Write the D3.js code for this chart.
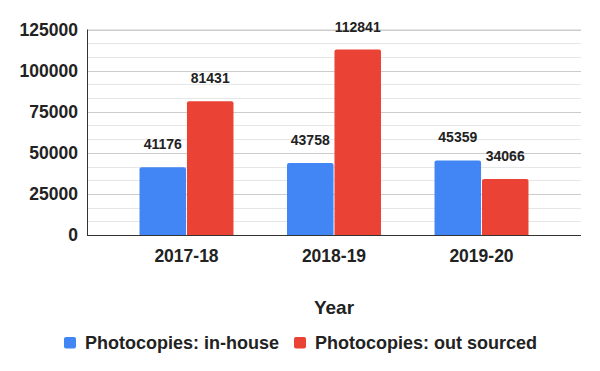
<!DOCTYPE html>
<html>
<head>
<meta charset="utf-8">
<script src="https://cdn.jsdelivr.net/npm/d3@7"></script>
<style>
  body { margin: 0; background: #fff; }
  svg { font-family: "Liberation Sans", Arial, sans-serif; }
</style>
</head>
<body>
<div id="chart"></div>
<script>
const years = ["2017-18", "2018-19", "2019-20"];
const series = ["Photocopies: in-house", "Photocopies: out sourced"];
const inHouse = [41176, 43758, 45359];
const outSourced = [81431, 112841, 34066];
const yTicks = [0, 25000, 50000, 75000, 100000, 125000];
const colors = ["#4285F4", "#EA4335"];

const width = 600, height = 371;
const plotLeft = 87, plotRight = 581, plotTop = 29.5, plotBottom = 235;

const svg = d3.select("#chart").append("svg")
  .attr("width", width)
  .attr("height", height);

const x0 = d3.scaleBand()
  .domain(years)
  .range([plotLeft, plotRight])
  .paddingInner(0.363)
  .paddingOuter(0.356);

const x1 = d3.scaleBand()
  .domain(series)
  .range([0, x0.bandwidth()])
  .paddingInner(0.02);

const y = d3.scaleLinear()
  .domain([0, 125000])
  .range([plotBottom, plotTop]);

// minor gridlines
const minor = d3.range(0, 125001, 25000 / 3);
svg.append("g").selectAll("line")
  .data(minor)
  .join("line")
  .attr("x1", plotLeft).attr("x2", plotRight)
  .attr("y1", d => Math.round(y(d)) + 0.5)
  .attr("y2", d => Math.round(y(d)) + 0.5)
  .attr("stroke", "#e6e6e6");

// major gridlines
svg.append("g").selectAll("line")
  .data(yTicks)
  .join("line")
  .attr("x1", plotLeft).attr("x2", plotRight)
  .attr("y1", d => Math.round(y(d)) + 0.5)
  .attr("y2", d => Math.round(y(d)) + 0.5)
  .attr("stroke", "#cccccc");

// y tick labels
svg.append("g").selectAll("text")
  .data(yTicks)
  .join("text")
  .attr("x", 78)
  .attr("y", d => y(d))
  .attr("dy", "0.36em")
  .attr("text-anchor", "end")
  .attr("font-size", 17.5)
  .attr("font-weight", "bold")
  .attr("fill", "#222")
  .text(d => d);

const rows = years.map((yr, i) => ({ year: yr, values: [inHouse[i], outSourced[i]] }));

const groups = svg.append("g").selectAll("g")
  .data(rows)
  .join("g")
  .attr("transform", d => `translate(${x0(d.year)},0)`);

groups.selectAll("path")
  .data(d => d.values.map((v, j) => ({ key: series[j], value: v, j })))
  .join("path")
  .attr("fill", d => colors[d.j])
  .attr("d", d => {
    const x = x1(d.key), w = x1.bandwidth(), yt = y(d.value), r = 2;
    return `M${x},${plotBottom}V${yt + r}Q${x},${yt} ${x + r},${yt}H${x + w - r}Q${x + w},${yt} ${x + w},${yt + r}V${plotBottom}Z`;
  });

groups.selectAll("text")
  .data(d => d.values.map((v, j) => ({ key: series[j], value: v, j })))
  .join("text")
  .attr("x", d => x1(d.key) + x1.bandwidth() / 2)
  .attr("y", d => y(d.value) - 23)
  .attr("dy", "0.36em")
  .attr("text-anchor", "middle")
  .attr("font-size", 14)
  .attr("font-weight", "bold")
  .attr("fill", "#222")
  .text(d => d.value);

// axis lines
svg.append("line")
  .attr("x1", plotLeft + 0.5).attr("x2", plotLeft + 0.5)
  .attr("y1", plotTop).attr("y2", plotBottom)
  .attr("stroke", "#333");
svg.append("line")
  .attr("x1", plotLeft).attr("x2", plotRight)
  .attr("y1", plotBottom + 0.5).attr("y2", plotBottom + 0.5)
  .attr("stroke", "#333");

// x labels
svg.append("g").selectAll("text")
  .data(years)
  .join("text")
  .attr("x", d => x0(d) + x0.bandwidth() / 2)
  .attr("y", 256)
  .attr("dy", "0.36em")
  .attr("text-anchor", "middle")
  .attr("font-size", 17.5)
  .attr("font-weight", "bold")
  .attr("fill", "#222")
  .text(d => d);

svg.append("text")
  .attr("x", (plotLeft + plotRight) / 2)
  .attr("y", 307)
  .attr("dy", "0.36em")
  .attr("text-anchor", "middle")
  .attr("font-size", 19)
  .attr("font-weight", "bold")
  .attr("fill", "#222")
  .text("Year");

// legend
const legendX = [64, 294];
const legend = svg.append("g").selectAll("g")
  .data(series)
  .join("g")
  .attr("transform", (d, i) => `translate(${legendX[i]},337)`);
legend.append("rect")
  .attr("width", 12).attr("height", 11.5)
  .attr("rx", 2)
  .attr("fill", (d, i) => colors[i]);
legend.append("text")
  .attr("x", 21)
  .attr("y", 5.5)
  .attr("dy", "0.36em")
  .attr("font-size", 18)
  .attr("font-weight", "bold")
  .attr("fill", "#222")
  .text(d => d);
</script>
</body>
</html>
